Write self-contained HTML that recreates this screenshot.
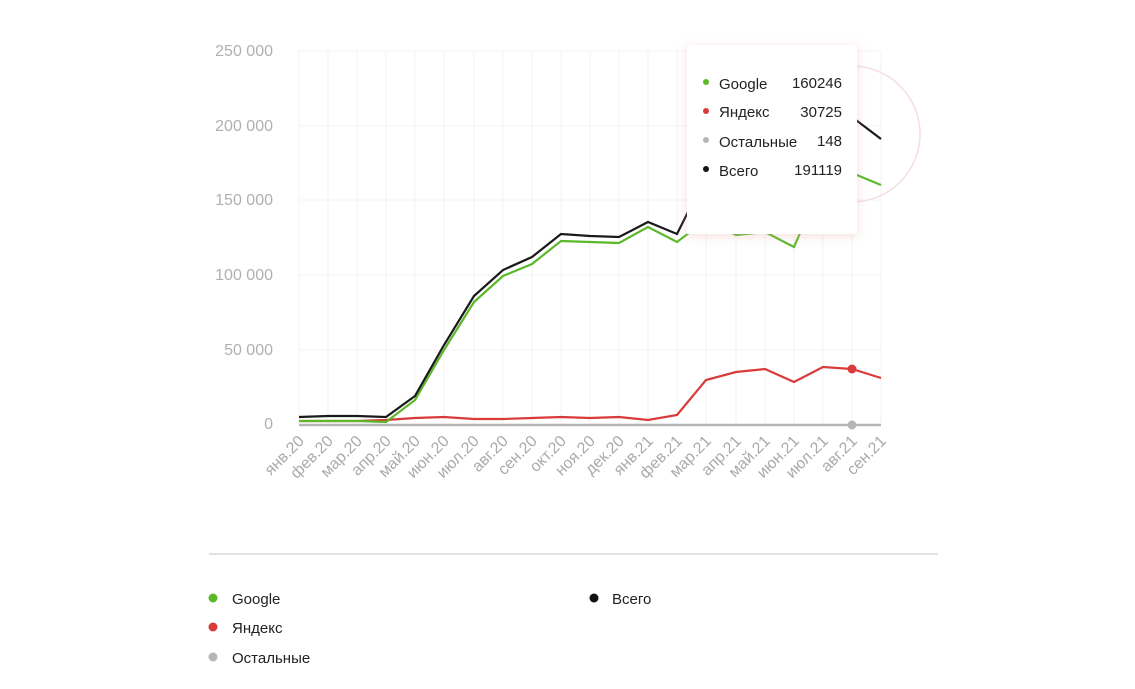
<!DOCTYPE html>
<html><head><meta charset="utf-8"><style>
body{margin:0;background:#fff;width:1135px;height:689px;overflow:hidden;font-family:"Liberation Sans","DejaVu Sans",sans-serif}
</style></head><body>
<svg width="1135" height="689" xmlns="http://www.w3.org/2000/svg" style="position:absolute;left:0;top:0">
<defs><filter id="sh" x="-20%" y="-20%" width="140%" height="140%"><feDropShadow dx="0" dy="2" stdDeviation="5" flood-color="#e8a0a0" flood-opacity="0.35"/></filter></defs>
<g stroke="#f3f3f3" stroke-width="1">
<line x1="299" y1="51" x2="881" y2="51"/><line x1="299" y1="126" x2="881" y2="126"/><line x1="299" y1="200" x2="881" y2="200"/><line x1="299" y1="275" x2="881" y2="275"/><line x1="299" y1="350" x2="881" y2="350"/>
<line x1="299" y1="51" x2="299" y2="424"/><line x1="328" y1="51" x2="328" y2="424"/><line x1="357" y1="51" x2="357" y2="424"/><line x1="386" y1="51" x2="386" y2="424"/><line x1="415" y1="51" x2="415" y2="424"/><line x1="444" y1="51" x2="444" y2="424"/><line x1="474" y1="51" x2="474" y2="424"/><line x1="503" y1="51" x2="503" y2="424"/><line x1="532" y1="51" x2="532" y2="424"/><line x1="561" y1="51" x2="561" y2="424"/><line x1="590" y1="51" x2="590" y2="424"/><line x1="619" y1="51" x2="619" y2="424"/><line x1="648" y1="51" x2="648" y2="424"/><line x1="677" y1="51" x2="677" y2="424"/><line x1="706" y1="51" x2="706" y2="424"/><line x1="736" y1="51" x2="736" y2="424"/><line x1="765" y1="51" x2="765" y2="424"/><line x1="794" y1="51" x2="794" y2="424"/><line x1="823" y1="51" x2="823" y2="424"/><line x1="852" y1="51" x2="852" y2="424"/><line x1="881" y1="51" x2="881" y2="424"/>
</g>
<g font-size="16" fill="#b0b0b0" text-anchor="end">
<text x="273" y="56">250 000</text><text x="273" y="131">200 000</text><text x="273" y="205">150 000</text><text x="273" y="280">100 000</text><text x="273" y="355">50 000</text><text x="273" y="429">0</text>
</g>
<line x1="299" y1="425" x2="881" y2="425" stroke="#b5b5b5" stroke-width="2.5"/>
<polyline fill="none" stroke="#d93a3a" stroke-width="2.2" points="299,421 328,421 357,421 386,420 415,418 444,417 474,419 503,419 532,418 561,417 590,418 619,417 648,420 677,415 706,380 736,372 765,369 794,382 823,367 852,369 881,378"/>
<polyline fill="none" stroke="#5cb82a" stroke-width="2.2" points="299,421 328,421 357,421 386,422 415,400 444,350 474,302 503,276 532,264 561,241 590,242 619,243 648,227 677,242 706,220 736,235 765,232 794,247 823,180 852,173 881,185"/>
<polyline fill="none" stroke="#1a1a1a" stroke-width="2.2" points="299,417 328,416 357,416 386,417 415,396 444,345 474,296 503,270 532,257 561,234 590,236 619,237 648,222 677,234 706,176 736,184 765,180 794,196 823,123 852,117 881,139"/>
<circle cx="852" cy="369" r="4.5" fill="#d93a3a"/>
<circle cx="852" cy="425" r="4.5" fill="#b5b5b5"/>
<circle cx="852" cy="134" r="68" fill="none" stroke="#f6dede" stroke-width="1.5"/>
<rect x="687" y="45" width="170" height="189" fill="#fff" filter="url(#sh)"/>
<g font-size="15" fill="#222">
<circle cx="706" cy="82" r="3" fill="#5cb82a"/><text x="719" y="89">Google</text><text x="842" y="88" text-anchor="end">160246</text>
<circle cx="706" cy="111" r="3" fill="#d93a3a"/><text x="719" y="117">Яндекс</text><text x="842" y="117" text-anchor="end">30725</text>
<circle cx="706" cy="140" r="3" fill="#b5b5b5"/><text x="719" y="147">Остальные</text><text x="842" y="146" text-anchor="end">148</text>
<circle cx="706" cy="169" r="3" fill="#111"/><text x="719" y="176">Всего</text><text x="842" y="175" text-anchor="end">191119</text>
</g>
<g font-size="16" fill="#aaa" text-anchor="end">
<text transform="translate(305,442) rotate(-45)">янв.20</text><text transform="translate(334,442) rotate(-45)">фев.20</text><text transform="translate(363,442) rotate(-45)">мар.20</text><text transform="translate(392,442) rotate(-45)">апр.20</text><text transform="translate(421,442) rotate(-45)">май.20</text><text transform="translate(450,442) rotate(-45)">июн.20</text><text transform="translate(480,442) rotate(-45)">июл.20</text><text transform="translate(509,442) rotate(-45)">авг.20</text><text transform="translate(538,442) rotate(-45)">сен.20</text><text transform="translate(567,442) rotate(-45)">окт.20</text><text transform="translate(596,442) rotate(-45)">ноя.20</text><text transform="translate(625,442) rotate(-45)">дек.20</text><text transform="translate(654,442) rotate(-45)">янв.21</text><text transform="translate(683,442) rotate(-45)">фев.21</text><text transform="translate(712,442) rotate(-45)">мар.21</text><text transform="translate(742,442) rotate(-45)">апр.21</text><text transform="translate(771,442) rotate(-45)">май.21</text><text transform="translate(800,442) rotate(-45)">июн.21</text><text transform="translate(829,442) rotate(-45)">июл.21</text><text transform="translate(858,442) rotate(-45)">авг.21</text><text transform="translate(887,442) rotate(-45)">сен.21</text>
</g>
<line x1="209" y1="554" x2="938" y2="554" stroke="#e2e2e2" stroke-width="2"/>
<g font-size="15" fill="#222">
<circle cx="213" cy="598" r="4.5" fill="#5cb82a"/><text x="232" y="604">Google</text>
<circle cx="213" cy="627" r="4.5" fill="#d93a3a"/><text x="232" y="633">Яндекс</text>
<circle cx="213" cy="657" r="4.5" fill="#b5b5b5"/><text x="232" y="663">Остальные</text>
<circle cx="594" cy="598" r="4.5" fill="#111"/><text x="612" y="604">Всего</text>
</g>
</svg>
</body></html>
